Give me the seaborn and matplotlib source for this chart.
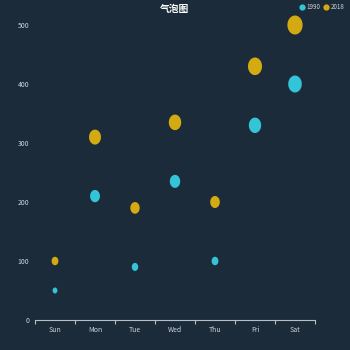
import matplotlib
matplotlib.use("Agg")
import matplotlib.pyplot as plt
import seaborn as sns
import numpy as np
import pandas as pd
from matplotlib.path import Path
from matplotlib.lines import Line2D

days = ["Sun", "Mon", "Tue", "Wed", "Thu", "Fri", "Sat"]
series_names = ["1990", "2018"]
values_1990 = [50, 210, 90, 235, 100, 330, 400]
values_2018 = [100, 310, 190, 335, 200, 430, 500]
y_ticks = [0, 100, 200, 300, 400, 500]
title = "气泡图"

bg = "#1c2b39"
colors = {"1990": "#33c4d8", "2018": "#d3aa12"}

df = pd.DataFrame({
    "day": days * 2,
    "value": values_1990 + values_2018,
    "year": [series_names[0]] * 7 + [series_names[1]] * 7,
})

sns.set_theme(style="dark")
plt.rcParams["font.family"] = ["Noto Sans CJK SC", "DejaVu Sans"]

fig = plt.figure(figsize=(3.5, 3.5), dpi=100, facecolor=bg)
ax = fig.add_axes([0.1, 30 / 350, 0.8, (320 - 25) / 350])
ax.set_facecolor(bg)

# ellipse marker (slightly taller than wide)
t = np.linspace(0, 2 * np.pi, 64)
ell = Path(np.column_stack([0.40 * np.cos(t), 0.5 * np.sin(t)]), closed=True)

sns.scatterplot(data=df, x="day", y="value", hue="year", palette=colors,
                size="value", sizes=(18.7, 187), size_norm=(50, 500),
                marker=ell, linewidth=0, alpha=1, legend=False, ax=ax,
                clip_on=False, zorder=3)

ax.set_xlim(-0.5, 6.5)
ax.set_ylim(0, 500)
ax.set_yticks(y_ticks)
ax.set_yticklabels([str(v) for v in y_ticks])
ax.set_xticks(range(len(days)))
ax.set_xticklabels(days)
ax.set_xticks(np.arange(-0.5, 7.0, 1.0), minor=True)
ax.tick_params(axis="x", which="major", length=0, pad=4, labelsize=5, colors="#cfd3d8")
ax.tick_params(axis="x", which="minor", length=3, width=0.8, color="#b8bec6", direction="out", bottom=True)
ax.tick_params(axis="y", length=0, pad=4, labelsize=5, colors="#cfd3d8")
ax.set_xlabel("")
ax.set_ylabel("")
ax.grid(False)
for s in ["top", "right", "left"]:
    ax.spines[s].set_visible(False)
ax.spines["bottom"].set_visible(True)
ax.spines["bottom"].set_color("#b8bec6")
ax.spines["bottom"].set_linewidth(0.8)

fig.text(0.5, 1 - 9 / 350, title, ha="center", va="center", fontsize=7,
         fontweight="bold", color="white")

handles = [Line2D([0], [0], marker="o", linestyle="", markersize=4.5,
                  markerfacecolor=colors[n], markeredgewidth=0, label=n)
           for n in series_names]
leg = fig.legend(handles=handles, loc="upper right", bbox_to_anchor=(1.0, 1.005),
                 ncol=2, frameon=False, fontsize=4.5, handletextpad=0.3,
                 columnspacing=0.4, handlelength=1.0, borderpad=0.3)
for txt in leg.get_texts():
    txt.set_color("#cfd3d8")

fig.savefig("out.png", dpi=100, facecolor=bg)
